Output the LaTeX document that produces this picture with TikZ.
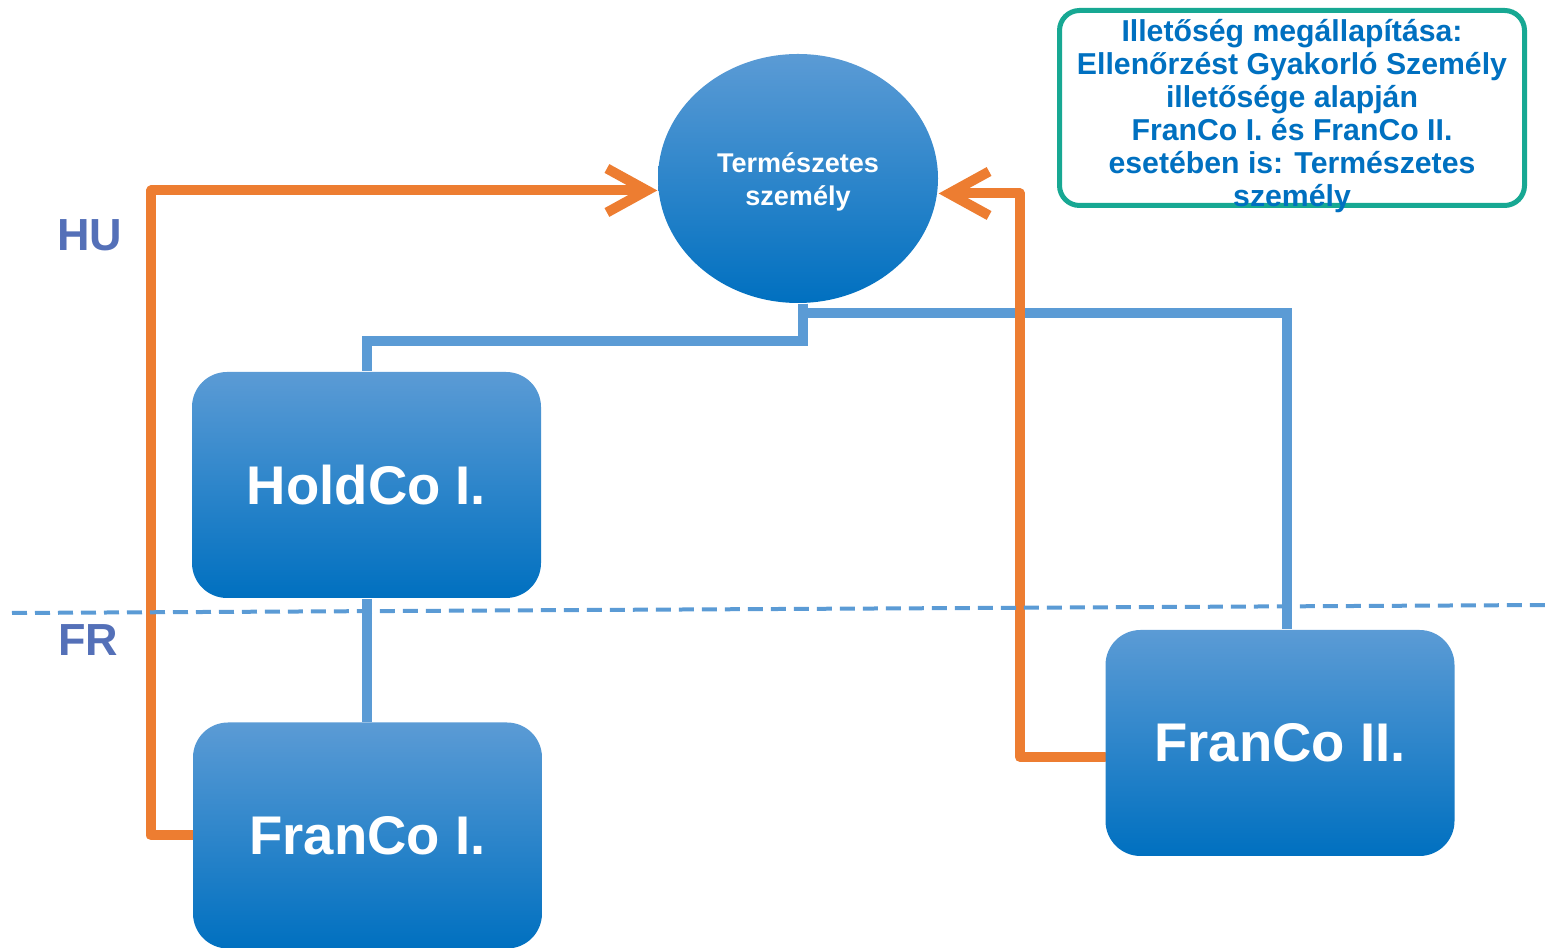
\documentclass[tikz,border=0pt]{standalone}
\usepackage{fontspec}
\setmainfont{Liberation Sans}
\usetikzlibrary{arrows.meta,backgrounds,shapes.geometric}
\definecolor{boxtop}{HTML}{5B9BD5}
\definecolor{boxbot}{HTML}{0070C0}
\definecolor{ctrlcol}{HTML}{ED7D31}
\definecolor{notecol}{HTML}{17A893}
\definecolor{countrycol}{HTML}{5470B8}

\begin{document}
\begin{tikzpicture}[
        company/.style={rounded corners=0.35cm, top color=boxtop, bottom color=boxbot,
            minimum width=3.49cm, minimum height=2.26cm, text=white,
            font=\fontsize{15.5}{19}\selectfont\bfseries},
        owns/.style={draw=boxtop, line width=0.1cm},
        control/.style={draw=ctrlcol, line width=0.1cm, line cap=round, line join=round,
            -{Straight Barb[length=0.4cm, width=0.44cm]}},
        country/.style={text=countrycol, font=\fontsize{12.8}{15}\selectfont\bfseries}
    ]
        \useasboundingbox (0,0) rectangle (15.47,-9.48);
        % border between the two countries
        \draw[boxtop, line width=0.04cm, dash pattern=on 0.15cm off 0.08cm] (0.12,-6.13) -- (15.47,-6.05);
        \node[country] (hu) at (0.90,-2.35) {HU};
        \node[country] (fr) at (0.88,-6.40) {FR};

        \node[ellipse, top color=boxtop, bottom color=boxbot, minimum width=2.8cm,
            minimum height=2.49cm, inner sep=0pt, text=white, align=center,
            font=\fontsize{7.7}{9.3}\selectfont\bfseries] (person) at (7.98,-1.785)
            {\rule{0pt}{0.26cm}Természetes\\személy};
        \node[company] (holdco1) at (3.665,-4.85) {HoldCo I.};
        \node[company] (franco1) at (3.675,-8.355) {FranCo I.};
        \node[company] (franco2) at (12.80,-7.43) {FranCo II.};

        % residence note, text sits a little low in the box
        \node[draw=notecol, line width=0.05cm, rounded corners=0.2cm, minimum width=4.65cm,
            minimum height=1.95cm] (note) at (12.92,-1.08) {}
            node[inner sep=0pt, text=boxbot, align=center,
            font=\fontsize{8.6}{9.4}\selectfont\bfseries] (notetext) at ([yshift=-0.08cm]note.center)
            {Illetőség megállapítása:\\Ellenőrzést Gyakorló Személy\\illetősége alapján\\
             FranCo I. és FranCo II.\\esetében is: Természetes\\személy};

        \begin{scope}[on background layer]
            \draw[owns] ([xshift=0.05cm]person.south) -- ++(0,-0.37) -| (holdco1.north);
            \draw[owns] ([xshift=0.05cm]person.south) -- ++(0,-0.09) -| ([xshift=0.07cm]franco2.north);
            \draw[owns] (holdco1.south) -- (holdco1.south |- franco1.north);
            \draw[control] (franco1.west) -- ++(-0.41,0) |- ([yshift=-0.12cm]person.west);
            \draw[control] ([yshift=-0.14cm]franco2.west) -- ++(-0.85,0) |- ([yshift=-0.15cm]person.east);
        \end{scope}
    \end{tikzpicture}
\end{document}
